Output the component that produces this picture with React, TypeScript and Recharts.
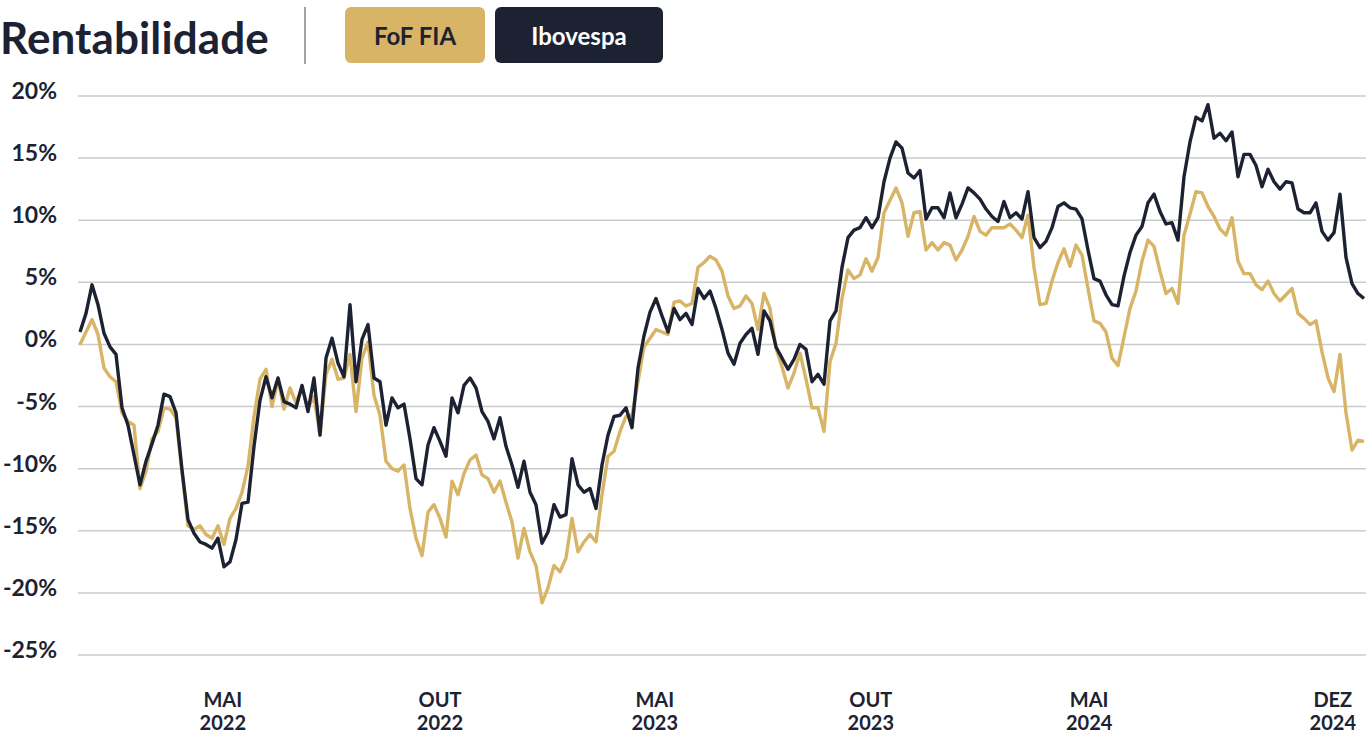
import React from "react";
import { LineChart, Line, XAxis, YAxis, CartesianGrid } from "recharts";

const fofFia = [
  0.0, 1.0, 2.0, 0.8, -1.9, -2.6, -3.0, -5.5, -6.2, -6.5,
  -11.6, -10.2, -7.6, -7.0, -5.1, -5.2, -5.9, -10.3, -14.6, -14.9,
  -14.6, -15.3, -15.6, -14.6, -16.1, -14.0, -13.2, -11.9, -9.8, -5.8,
  -2.8, -2.0, -5.0, -2.8, -5.2, -3.5, -4.7, -3.5, -5.1, -4.2,
  -7.3, -2.4, -1.2, -2.8, -2.7, -0.8, -5.4, -1.1, 0.2, -4.1,
  -5.7, -9.4, -10.0, -10.2, -9.7, -13.2, -15.6, -17.0, -13.5, -12.9,
  -14.0, -15.5, -11.0, -12.1, -10.4, -9.3, -8.9, -10.5, -10.8, -11.9,
  -11.0, -12.7, -14.3, -17.2, -14.8, -16.7, -17.8, -20.8, -19.6, -17.8,
  -18.3, -17.2, -14.0, -16.7, -15.9, -15.3, -15.9, -12.1, -9.0, -8.6,
  -7.0, -5.8, -5.7, -3.0, -0.2, 0.5, 1.2, 1.0, 0.8, 3.4,
  3.5, 3.1, 3.3, 6.2, 6.6, 7.1, 6.8, 5.9, 3.9, 2.9,
  3.1, 3.9, 3.3, 1.2, 4.1, 2.9, -0.3, -1.8, -3.5, -2.3,
  -0.7, -2.8, -5.1, -5.1, -7.0, -1.4, 0.1, 3.7, 6.0, 5.3,
  5.6, 6.9, 5.9, 7.0, 10.6, 11.6, 12.6, 11.4, 8.7, 10.6,
  10.7, 7.6, 8.2, 7.6, 8.2, 8.0, 6.8, 7.6, 8.7, 10.3,
  9.1, 8.8, 9.4, 9.4, 9.4, 9.7, 9.2, 8.6, 10.4, 6.2,
  3.2, 3.3, 5.1, 6.6, 7.7, 6.3, 8.0, 7.2, 4.5, 1.9,
  1.7, 1.0, -1.1, -1.7, 0.6, 2.9, 4.3, 6.7, 8.4, 7.9,
  5.9, 4.1, 4.5, 3.3, 8.8, 10.5, 12.3, 12.2, 11.1, 10.3,
  9.3, 8.8, 10.2, 6.7, 5.7, 5.7, 4.8, 4.4, 5.1, 4.1,
  3.5, 4.0, 4.5, 2.5, 2.1, 1.6, 1.9, -0.6, -2.7, -3.8,
  -0.8, -5.5, -8.5, -7.7, -7.8,
];

const ibovespa = [
  1.0, 2.5, 4.8, 3.2, 0.9, -0.2, -0.8, -5.1, -6.5, -8.9,
  -11.3, -9.4, -8.0, -6.5, -4.0, -4.2, -5.5, -10.1, -14.1, -15.2,
  -15.9, -16.1, -16.4, -15.6, -17.9, -17.5, -15.7, -12.8, -12.7, -8.2,
  -4.5, -2.6, -4.3, -2.7, -4.6, -4.8, -5.1, -3.3, -5.4, -2.7,
  -7.3, -1.1, 0.5, -1.5, -2.6, 3.2, -3.0, 0.4, 1.6, -2.7,
  -3.0, -6.5, -4.3, -5.1, -4.8, -7.6, -10.8, -11.3, -8.1, -6.7,
  -7.8, -9.0, -4.3, -5.5, -3.3, -2.7, -3.5, -5.4, -6.2, -7.6,
  -5.9, -8.2, -9.7, -11.5, -9.4, -11.9, -12.9, -16.0, -15.1, -12.9,
  -13.9, -13.7, -9.2, -11.3, -11.9, -11.6, -13.2, -9.7, -7.3, -5.8,
  -5.7, -5.1, -6.7, -1.9, 0.7, 2.6, 3.7, 2.3, 1.0, 2.9,
  2.0, 2.5, 1.6, 4.5, 3.7, 4.3, 2.9, 1.2, -0.7, -1.6,
  0.1, 0.8, 1.3, -0.8, 2.7, 1.9, -0.2, -1.1, -2.0, -1.2,
  0.0, -0.4, -3.0, -2.4, -3.2, 1.9, 2.7, 6.2, 8.6, 9.2,
  9.4, 10.2, 9.4, 10.2, 13.1, 15.0, 16.3, 15.8, 13.8, 13.4,
  14.0, 10.1, 11.0, 11.0, 10.2, 12.2, 10.2, 11.3, 12.6, 12.2,
  11.7, 10.9, 10.3, 9.9, 11.5, 10.2, 10.6, 10.1, 12.3, 8.6,
  7.8, 8.3, 9.4, 11.1, 11.4, 11.0, 10.9, 10.1, 7.6, 5.3,
  5.1, 4.0, 3.2, 3.1, 5.5, 7.4, 8.8, 9.5, 11.4, 12.1,
  10.7, 9.7, 9.8, 8.4, 13.5, 16.3, 18.3, 18.0, 19.3, 16.6,
  17.0, 16.4, 17.1, 13.5, 15.3, 15.3, 14.4, 12.7, 14.1, 13.1,
  12.5, 13.1, 13.0, 10.9, 10.6, 10.6, 11.4, 9.1, 8.4, 9.0,
  12.1, 7.0, 4.9, 4.1, 3.7,
];

const yTicks = [-25, -20, -15, -10, -5, 0, 5, 10, 15, 20];
const tickIndex = [23.8, 60, 95.8, 131.8, 168.2, 208.8];
const tickMonths = ["MAI", "OUT", "MAI", "OUT", "MAI", "DEZ"];
const tickYears = ["2022", "2022", "2023", "2023", "2024", "2024"];

const GOLD = "#d8b466";
const NAVY = "#1d2232";
const FONT = "Lato, 'Open Sans', sans-serif";

const data = fofFia.map((v, i) => ({ i, fof: v, ibov: ibovespa[i] }));

const YTick = ({ y, payload }: any) => (
    <text x={57} y={y - 6} textAnchor="end" dominantBaseline="central" fontFamily={FONT} fontWeight={700} fontSize={23} fill={NAVY}>
        {payload.value}%
    </text>
);

const XTick = ({ x, payload }: any) => {
    const k = tickIndex.indexOf(payload.value);
    return (
        <g fontFamily={FONT} fontWeight={700} fontSize={20} fill={NAVY} textAnchor="middle">
            <text x={x} y={707}>{tickMonths[k]}</text>
            <text x={x} y={730}>{tickYears[k]}</text>
        </g>
    );
};

export default function App() {
    return (
        <div style={{ position: "relative", width: 1366, height: 739, background: "#fff", fontFamily: FONT }}>
            <style>{"body{margin:0}"}</style>
            <div style={{ position: "absolute", left: 0, top: 11, fontSize: 44, fontWeight: 700, color: NAVY, lineHeight: "52px", letterSpacing: 0.1 }}>
                Rentabilidade
            </div>
            <div style={{ position: "absolute", left: 304, top: 7, width: 2, height: 57, background: "#a3a3a3" }} />
            <div
                style={{
                    position: "absolute", left: 345, top: 7, width: 140, height: 56, borderRadius: 6, background: GOLD,
                    color: NAVY, fontSize: 24, fontWeight: 700, display: "flex", alignItems: "center", justifyContent: "center",
                }}
            >
                FoF FIA
            </div>
            <div
                style={{
                    position: "absolute", left: 495, top: 7, width: 168, height: 56, borderRadius: 6, background: NAVY,
                    color: "#fff", fontSize: 24, fontWeight: 700, display: "flex", alignItems: "center", justifyContent: "center",
                }}
            >
                Ibovespa
            </div>
            <LineChart width={1366} height={739} data={data} margin={{ top: 96, right: 0, bottom: 0, left: 0 }}>
                <CartesianGrid horizontal vertical={false} stroke="#cbcbcb" strokeWidth={1.5} />
                <XAxis
                    dataKey="i"
                    type="number"
                    domain={[0, fofFia.length - 1]}
                    ticks={tickIndex}
                    tick={<XTick />}
                    tickLine={false}
                    axisLine={false}
                    height={84}
                    padding={{ left: 2, right: 2 }}
                    interval={0}
                />
                <YAxis
                    type="number"
                    domain={[-25, 20]}
                    ticks={yTicks}
                    tick={<YTick />}
                    tickLine={false}
                    axisLine={false}
                    width={78}
                    interval={0}
                />
                <Line dataKey="fof" stroke={GOLD} strokeWidth={3.4} dot={false} isAnimationActive={false} strokeLinejoin="round" />
                <Line dataKey="ibov" stroke={NAVY} strokeWidth={3.4} dot={false} isAnimationActive={false} strokeLinejoin="round" />
            </LineChart>
        </div>
    );
}
